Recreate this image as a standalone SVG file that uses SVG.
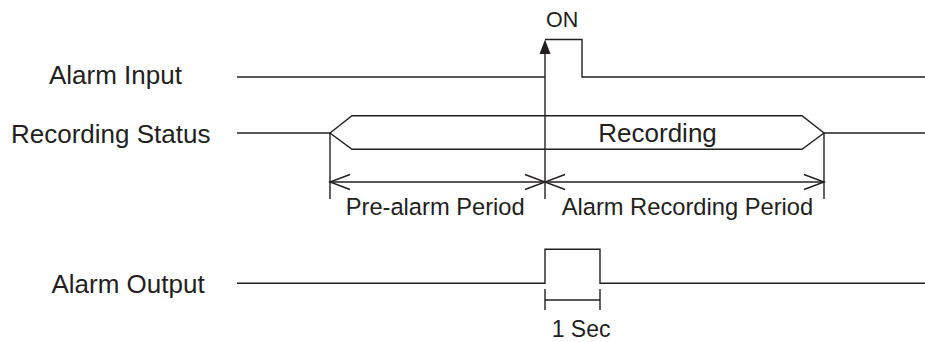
<svg xmlns="http://www.w3.org/2000/svg" width="925" height="342" viewBox="0 0 925 342">
<style>
.ln{fill:none;stroke:#231f20;stroke-width:1.4;stroke-linejoin:miter}
.t{font-family:"Liberation Sans",Arial,sans-serif;fill:#231f20}
.lbl{font-size:26px}
.per{font-size:23.7px}
</style>
<rect width="925" height="342" fill="#ffffff"/>
<g id="label-alarm-input"><text class="t lbl" x="49" y="84">Alarm Input</text></g>
<g id="label-recording-status"><text class="t lbl" x="11" y="143">Recording Status</text></g>
<g id="label-alarm-output"><text class="t lbl" x="51.5" y="292.5">Alarm Output</text></g>
<g id="label-on"><text class="t" font-size="21.5" x="546" y="27.3">ON</text></g>
<g id="recording-block">
<polygon class="ln" points="330,133 352,115.7 802,115.7 824,133 802,149.3 352,149.3"/>
<text class="t lbl" x="598.3" y="142">Recording</text>
</g>
<g id="label-pre-alarm"><text class="t per" x="345.7" y="214.5">Pre-alarm Period</text></g>
<g id="label-alarm-recording"><text class="t per" x="561.7" y="215">Alarm Recording Period</text></g>
<g id="label-1sec"><text class="t" font-size="23" x="551.7" y="336.5">1 Sec</text></g>
<g id="connectors">
<polyline class="ln" points="237,77 545,77"/>
<polyline class="ln" points="545,39.5 582,39.5 582,77 925,77"/>
<line class="ln" x1="545" y1="50" x2="545" y2="199"/>
<polygon points="545,39.5 550.5,54 539.5,54" fill="#231f20"/>
<line class="ln" x1="237" y1="133" x2="330" y2="133"/>
<line class="ln" x1="824" y1="133" x2="925" y2="133"/>
<line class="ln" x1="330" y1="133" x2="330" y2="199"/>
<line class="ln" x1="824" y1="133" x2="824" y2="199"/>
<line class="ln" x1="330" y1="182" x2="824" y2="182"/>
<polyline class="ln" points="350,174.5 330,182 350,189.5"/>
<polyline class="ln" points="525,174.5 545,182 525,189.5"/>
<polyline class="ln" points="565,174.5 545,182 565,189.5"/>
<polyline class="ln" points="804,174.5 824,182 804,189.5"/>
<polyline class="ln" points="237,283.3 545,283.3 545,249.3 600,249.3 600,283.3 925,283.3"/>
<line class="ln" x1="545" y1="289" x2="545" y2="310"/>
<line class="ln" x1="600" y1="289" x2="600" y2="310"/>
<line class="ln" x1="545" y1="300" x2="600" y2="300"/>
</g>
</svg>
